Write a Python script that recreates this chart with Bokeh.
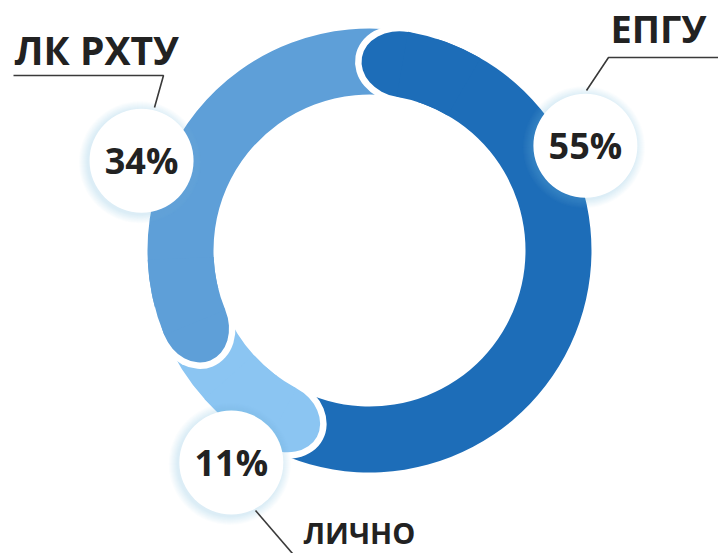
import math
from bokeh.plotting import figure
from bokeh.models import Range1d, ColumnDataSource
from bokeh.core.properties import value
from bokeh.embed import file_html
from bokeh.resources import INLINE

# ---- data ----
labels = ["ЕПГУ", "ЛК РХТУ", "ЛИЧНО"]
shares = [55, 34, 11]
pct_labels = [f"{v}%" for v in shares]

# ---- style / layout ----
colors = ["#1d6db8", "#5e9fd8", "#8bc5f2"]
W, H = 718, 553
CX, CY = 369, 303
R_IN, R_OUT = 156, 222
R_MID = (R_IN + R_OUT) / 2
HALF = (R_OUT - R_IN) / 2
START_DEG = -118.0            # clockwise (flat) end of the first segment
badge_polar = [(240, 25.9), (245, 158.5), (253, 236.9)]   # (distance, degrees) of % badges
BADGE_R = 52
FONT = "Open Sans"

p = figure(width=W, height=H, x_range=Range1d(0, W), y_range=Range1d(0, H),
           output_backend="svg", toolbar_location=None, min_border=0,
           x_axis_type=None, y_axis_type=None)
p.grid.visible = False
p.outline_line_color = None
p.background_fill_color = "white"
p.border_fill_color = "white"

# segment angles from data
total = sum(shares)
starts, ends = [], []
a = START_DEG
for v in shares:
    starts.append(math.radians(a))
    a += v / total * 360.0
    ends.append(math.radians(a))

seg = ColumnDataSource(dict(x=[CX] * 3, y=[CY] * 3, s=starts, e=ends, c=colors))
p.annular_wedge(x="x", y="y", inner_radius=R_IN, outer_radius=R_OUT, start_angle="s",
                end_angle="e", fill_color="c", line_color=None, source=seg)

# rounded caps at the anticlockwise end of each segment, separated by a white gap
capx = [CX + R_MID * math.cos(e) for e in ends]
capy = [CY + R_MID * math.sin(e) for e in ends]
cap = ColumnDataSource(dict(x=capx, y=capy, ang=[e + math.pi / 2 for e in ends], c=colors))
CAP_LEN = 2 * HALF + 16
p.ellipse(x="x", y="y", width=CAP_LEN + 13, height=2 * HALF + 13, angle="ang",
          fill_color="white", line_color=None, source=cap)
p.ellipse(x="x", y="y", width=CAP_LEN, height=2 * HALF, angle="ang",
          fill_color="c", line_color=None, source=cap)

# re-cover the back half of each cap with its own segment
back = ColumnDataSource(dict(x=[CX] * 3, y=[CY] * 3, s=[e - math.radians(20) for e in ends],
                             e=ends, c=colors))
p.annular_wedge(x="x", y="y", inner_radius=R_IN, outer_radius=R_OUT,
                start_angle="s", end_angle="e", fill_color="c", line_color=None, source=back)

# percentage badges with soft shadow
bx = [CX + d * math.cos(math.radians(t)) for d, t in badge_polar]
by = [CY + d * math.sin(math.radians(t)) for d, t in badge_polar]
for k in range(1, 10):
    p.circle(x=[x - 1.5 for x in bx], y=[y - 1.5 for y in by], radius=BADGE_R + k,
             fill_color="#8fb4de", fill_alpha=0.03, line_color=None)
p.circle(x=bx, y=by, radius=BADGE_R, fill_color="white", line_color=None)
p.text(x=bx, y=by, text=pct_labels, text_align="center", text_baseline="middle",
       text_font=value(FONT), text_font_style="bold", text_font_size="36px",
       text_color="#222222")

# leader lines
line_style = dict(line_color="#3a3a3a", line_width=1.6)
p.line(x=[154, 163, 13], y=[446, 478, 478], **line_style)
p.line(x=[586, 608, 718], y=[463, 496, 496], **line_style)
p.line(x=[255, 292], y=[43, 0], **line_style)

# category labels
p.text(x=[14], y=[504], text=[labels[1]], text_align="left", text_baseline="middle",
       text_font=value(FONT), text_font_style="bold", text_font_size="39px",
       text_color="#222222")
p.text(x=[706], y=[526], text=[labels[0]], text_align="right", text_baseline="middle",
       text_font=value(FONT), text_font_style="bold", text_font_size="38px",
       text_color="#222222")
p.text(x=[303], y=[21], text=[labels[2]], text_align="left", text_baseline="middle",
       text_font=value(FONT), text_font_style="bold", text_font_size="29px",
       text_color="#222222")

open("out.html", "w").write(file_html(p, INLINE))
